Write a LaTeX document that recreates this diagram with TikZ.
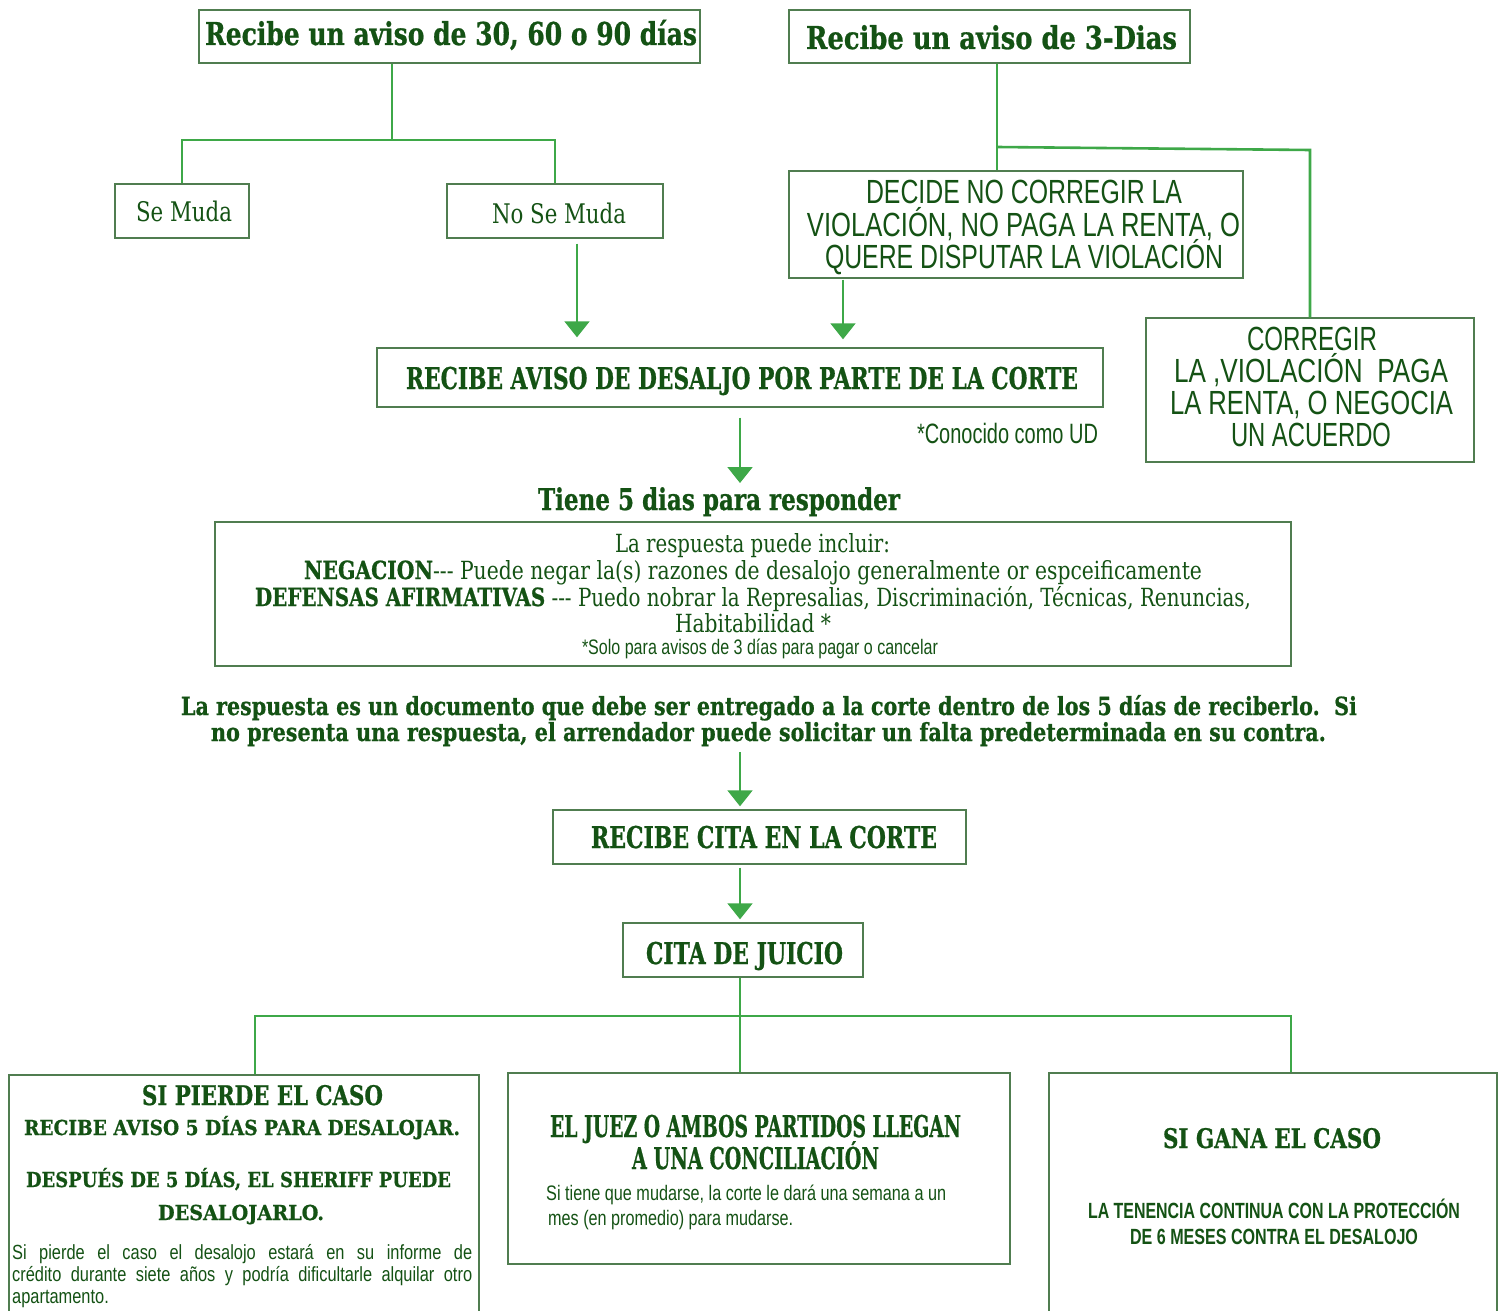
\documentclass[tikz,border=0pt]{standalone}
\usepackage{fontspec}
\usepackage{graphicx}
\usetikzlibrary{arrows.meta}
\setmainfont{DejaVu Serif}[BoldFeatures={FakeBold=0.8}]
\newfontfamily\nsans{Liberation Sans}[FakeStretch=0.8]
\definecolor{tg}{RGB}{20,82,20}
\definecolor{lg}{RGB}{62,168,72}
\definecolor{bg}{RGB}{80,125,80}
\newcommand{\fw}[2]{\resizebox{#1pt}{\height}{#2}}
\newcommand{\fs}[1]{\fontsize{#1}{#1}\selectfont}
\newcommand{\thd}{-{}-{}-}
\begin{document}
\begin{tikzpicture}[x=1pt,y=-1pt,
  box/.style={draw=bg, line width=1.4pt, rectangle, inner sep=0},
  txt/.style={text=tg, anchor=base, inner sep=0},
  conn/.style={draw=lg, line width=2.6pt},
  arr/.style={draw=lg, line width=2pt, -{Triangle[width=25pt,length=16pt]}}]
\fill[white] (0,0) rectangle (1504,1311);
\useasboundingbox (0,0) rectangle (1504,1311);

% boxes
\node[box, minimum width=501pt, minimum height=53pt] (A) at (449.5,36.5) {};
\node[box, minimum width=401pt, minimum height=53pt] (B) at (989.5,36.5) {};
\node[box, minimum width=134pt, minimum height=54pt] (SeMuda) at (182,211) {};
\node[box, minimum width=216pt, minimum height=54pt] (NoSeMuda) at (555,211) {};
\node[box, minimum width=454pt, minimum height=107pt] (DECIDE) at (1016,224.5) {};
\node[box, minimum width=328pt, minimum height=144pt] (CORREGIR) at (1310,390) {};
\node[box, minimum width=726pt, minimum height=59pt] (DESALJO) at (740,377.5) {};
\node[box, minimum width=1076pt, minimum height=144pt] (RESP) at (753,594) {};
\node[box, minimum width=413pt, minimum height=54pt] (CITA) at (759.5,837) {};
\node[box, minimum width=240pt, minimum height=54pt] (JUICIO) at (743,950) {};
\node[box, minimum width=470pt, minimum height=254pt] (LOSE) at (244,1202) {};
\node[box, minimum width=502pt, minimum height=191pt] (MID) at (759,1168.5) {};
\node[box, minimum width=448pt, minimum height=257pt] (WIN) at (1273,1201.5) {};

% texts
\node[txt, font=\bfseries\fs{31.5}] (tA) at (451,45) {\fw{492}{Recibe un aviso de 30, 60 o 90 días}};
\node[txt, font=\bfseries\fs{31.5}] (tB) at (991.5,49) {\fw{371}{Recibe un aviso de 3-Dias}};
\node[txt, font=\fs{27}] (tSe) at (184,221) {\fw{96}{Se Muda}};
\node[txt, font=\fs{27}] (tNo) at (559,223) {\fw{134}{No Se Muda}};
\node[txt, font=\nsans\fs{33.5}] (tD1) at (1024,203) {\fw{316}{DECIDE NO CORREGIR LA}};
\node[txt, font=\nsans\fs{33.5}] (tD2) at (1023.5,236) {\fw{433}{VIOLACIÓN, NO PAGA LA RENTA, O}};
\node[txt, font=\nsans\fs{33.5}] (tD3) at (1024,268) {\fw{398}{QUERE DISPUTAR LA VIOLACIÓN}};
\node[txt, font=\nsans\fs{33.5}] (tC1) at (1312,350) {\fw{130}{CORREGIR}};
\node[txt, font=\nsans\fs{33.5}] (tC2) at (1311,382) {\fw{274}{LA ,VIOLACIÓN\ \ PAGA}};
\node[txt, font=\nsans\fs{33.5}] (tC3) at (1311.5,414) {\fw{283}{LA RENTA, O NEGOCIA}};
\node[txt, font=\nsans\fs{33.5}] (tC4) at (1311,446) {\fw{160}{UN ACUERDO}};
\node[txt, font=\bfseries\fs{30}] (tDes) at (742,389) {\fw{672}{RECIBE AVISO DE DESALJO POR PARTE DE LA CORTE}};
\node[txt, font=\nsans\fs{28}] (tUD) at (1007.5,443) {\fw{181}{*Conocido como UD}};
\node[txt, font=\bfseries\fs{30}] (tTiene) at (719,510) {\fw{362}{Tiene 5 dias para responder}};
\node[txt, font=\fs{25}] (tR1) at (752.5,552) {\fw{275}{La respuesta puede incluir:}};
\node[txt, font=\fs{25}] (tR2) at (753,579) {\fw{898}{{\bfseries NEGACION}\thd{} Puede negar la(s) razones de desalojo generalmente or espceificamente}};
\node[txt, font=\fs{25}] (tR3) at (753,606) {\fw{996}{{\bfseries DEFENSAS AFIRMATIVAS} \thd{} Puedo nobrar la Represalias, Discriminación, Técnicas, Renuncias,}};
\node[txt, font=\fs{25}] (tR4) at (753,632) {\fw{156}{Habitabilidad *}};
\node[txt, font=\nsans\fs{21}] (tR5) at (760,654) {\fw{356}{*Solo para avisos de 3 días para pagar o cancelar}};
\node[txt, font=\bfseries\fs{25}] (tP1) at (769,715) {\fw{1176}{La respuesta es un documento que debe ser entregado a la corte dentro de los 5 días de reciberlo.\ \ Si}};
\node[txt, font=\bfseries\fs{25}] (tP2) at (768.5,741) {\fw{1115}{no presenta una respuesta, el arrendador puede solicitar un falta predeterminada en su contra.}};
\node[txt, font=\bfseries\fs{30}] (tCita) at (764,848) {\fw{346}{RECIBE CITA EN LA CORTE}};
\node[txt, font=\bfseries\fs{30}] (tJuicio) at (744.5,964) {\fw{197}{CITA DE JUICIO}};
\node[txt, font=\bfseries\fs{27}] (tL1) at (262.5,1105) {\fw{241}{SI PIERDE EL CASO}};
\node[txt, font=\bfseries\fs{20.6}] (tL2) at (242,1135) {\fw{436}{RECIBE AVISO 5 DÍAS PARA DESALOJAR.}};
\node[txt, font=\bfseries\fs{20.6}] (tL3) at (238.5,1187) {\fw{425}{DESPUÉS DE 5 DÍAS, EL SHERIFF PUEDE}};
\node[txt, font=\bfseries\fs{20.6}] (tL4) at (241,1220) {\fw{166}{DESALOJARLO.}};
\node[txt, anchor=base west, font=\nsans\fs{20.5}] (tL5) at (12,1259) {\makebox[460pt][s]{Si pierde el caso el desalojo estará en su informe de}};
\node[txt, anchor=base west, font=\nsans\fs{20.5}] (tL6) at (12,1281) {\makebox[460pt][s]{crédito durante siete años y podría dificultarle alquilar otro}};
\node[txt, anchor=base west, font=\nsans\fs{20.5}] (tL7) at (12,1303) {apartamento.};
\node[txt, font=\bfseries\fs{30}] (tM1) at (755.5,1137) {\fw{411}{EL JUEZ O AMBOS PARTIDOS LLEGAN}};
\node[txt, font=\bfseries\fs{30}] (tM2) at (755.5,1169) {\fw{247}{A UNA CONCILIACIÓN}};
\node[txt, anchor=base west, font=\nsans\fs{21}] (tM3) at (546,1200) {\fw{400}{Si tiene que mudarse, la corte le dará una semana a un}};
\node[txt, anchor=base west, font=\nsans\fs{21}] (tM4) at (548,1225) {\fw{245}{mes (en promedio) para mudarse.}};
\node[txt, font=\bfseries\fs{27}] (tW1) at (1272,1148) {\fw{218}{SI GANA EL CASO}};
\node[txt, font=\nsans\bfseries\fs{22}] (tW2) at (1274,1218) {\fw{372}{LA TENENCIA CONTINUA CON LA PROTECCIÓN}};
\node[txt, font=\nsans\bfseries\fs{22}] (tW3) at (1274,1244) {\fw{288}{DE 6 MESES CONTRA EL DESALOJO}};

% connectors
\coordinate (jA) at (392,140);
\draw[conn] (A.south -| jA) -- (jA);
\draw[conn] (SeMuda.north) |- (jA) -| (NoSeMuda.north);
\coordinate (jB) at (997,147);
\coordinate (kB) at (1310,150);
\draw[conn] (B.south -| jB) -- (DECIDE.north -| jB);
\draw[conn] (jB) -- (kB) -- (CORREGIR.north);

\coordinate (x577) at (577,0);
\coordinate (x843) at (843,0);
\coordinate (x740) at (740,0);
\draw[arr, shorten <=5pt, shorten >=10pt] (NoSeMuda.south -| x577) -- (DESALJO.north -| x577);
\draw[arr, shorten <=1pt, shorten >=8pt] (DECIDE.south -| x843) -- (DESALJO.north -| x843);
\draw[arr, shorten <=10pt, shorten >=4pt] (DESALJO.south -| x740) -- (tTiene.north -| x740);
\draw[arr, shorten <=6pt, shorten >=3pt] (tP2.south -| x740) -- (CITA.north -| x740);
\draw[arr, shorten <=3pt, shorten >=3pt] (CITA.south -| x740) -- (JUICIO.north -| x740);

\coordinate (jJ) at (740,1016);
\coordinate (cL) at (255,1016);
\coordinate (cR) at (1291,1016);
\draw[conn] (JUICIO.south -| jJ) -- (jJ);
\draw[conn] (LOSE.north -| cL) |- (cR) -- (WIN.north -| cR);
\draw[conn] (jJ) -- (MID.north -| jJ);
\end{tikzpicture}
\end{document}
